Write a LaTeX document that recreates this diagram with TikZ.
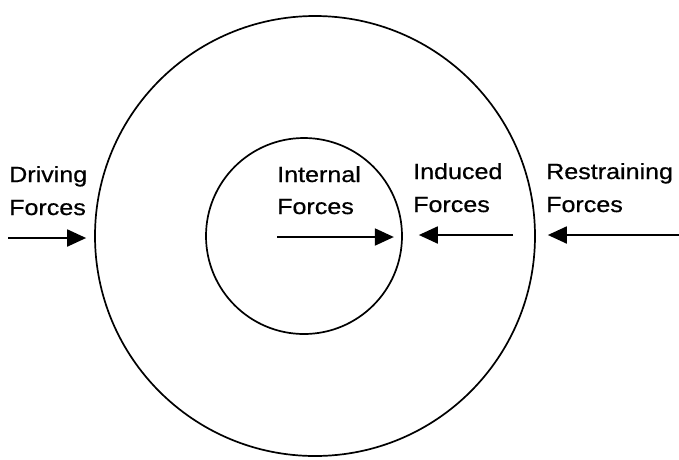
\documentclass[tikz,border=0pt]{standalone}
\usepackage{fontspec}
\newfontfamily\lblfont[FakeStretch=1.14,FakeBold=0.6]{Liberation Sans}
\usetikzlibrary{arrows.meta}
\begin{document}
\begin{tikzpicture}[x=1pt,y=-1pt,
  ring/.style={circle,draw,line width=1.7pt,inner sep=0pt},
  lbl/.style={anchor=base west,inner sep=0pt,font=\lblfont\fontsize{22}{33}\selectfont},
  force/.style={line width=1.9pt,-{Triangle[length=19pt,width=17pt]}}]
\useasboundingbox (0,0) rectangle (679,459);
% the two concentric boundaries
\node[ring,minimum size=440pt] (outer) at (315,236) {};
\node[ring,minimum size=196pt] (inner) at (304,236) {};
% labels
\node[lbl] (drv1) at (9,182) {Driving};
\node[lbl] (drv2) at (9,215) {Forces};
\node[lbl] (int1) at (277,182) {Internal};
\node[lbl] (int2) at (277,214) {Forces};
\node[lbl] (ind1) at (413,179) {Induced};
\node[lbl] (ind2) at (413,212) {Forces};
\node[lbl] (res1) at (546,179) {Restraining};
\node[lbl] (res2) at (546,212) {Forces};
% arrow ends: tails, and heads level with them just off the rings
\coordinate (drvT) at (8,238);
\coordinate (drvH) at ([xshift=-8pt]drvT -| outer.west);
\coordinate (intT) at (277,237);
\coordinate (intH) at ([xshift=-9pt]intT -| inner.east);
\coordinate (indT) at (513,235);
\coordinate (indH) at ([xshift=16pt]indT -| inner.east);
\coordinate (resT) at (679,235);
\coordinate (resH) at ([xshift=12pt]resT -| outer.east);
% forces
\draw[force] (drvT) -- (drvH);
\draw[force] (intT) -- (intH);
\draw[force] (indT) -- (indH);
\draw[force] (resT) -- (resH);
\end{tikzpicture}
\end{document}
